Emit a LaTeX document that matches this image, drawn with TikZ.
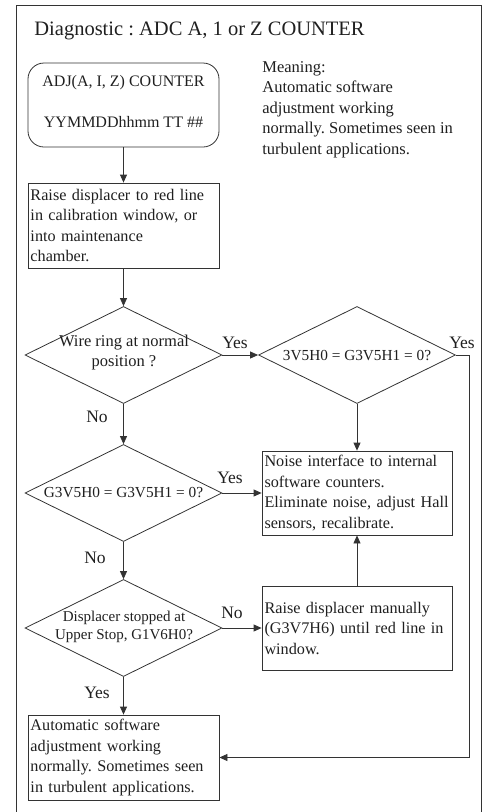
\documentclass[tikz,border=0pt]{standalone}
\usepackage{fontspec}
\setmainfont{Liberation Serif}
\usetikzlibrary{shapes.geometric,arrows.meta}
\frenchspacing
\begin{document}
\begin{tikzpicture}[x=1pt,y=-1pt,
  line width=0.8pt,
  lc/.style={draw=black!80},
  txt/.style={text=black!88},
  boxtext/.style={txt,font=\fontsize{16.2}{20.5}\selectfont\frenchspacing},
  procbox/.style={lc,rectangle,boxtext,inner xsep=2.5pt,inner ysep=0pt,align=left,minimum height=85pt},
  decision/.style={lc,diamond,minimum width=197pt,minimum height=97pt,inner sep=0pt},
  dtext/.style={txt,align=center,inner sep=0pt},
  lbl/.style={txt,font=\fontsize{17.5}{20}\selectfont,inner sep=0pt},
  arr/.style={lc,-{Triangle[length=8pt,width=7pt]}},
  ln/.style={lc}]
\useasboundingbox (0,0) rectangle (489,812);
\clip (0,0) rectangle (489,812);
% outer frame
\draw[lc] (16,830) -- (16,5) -- (481,5) -- (481,830);
% title
\node[txt,font=\fontsize{20.5}{24}\selectfont,anchor=west,inner sep=0pt] (title) at (34,31) {Diagnostic : ADC A, 1 or Z COUNTER};
% start box
\node[lc,rectangle,rounded corners=16pt,minimum width=191pt,minimum height=84pt,inner sep=0pt] (start) at (123.5,105) {};
\node[txt,font=\fontsize{16}{20}\selectfont,inner sep=0pt] (s1) at (123.5,83) {ADJ(A, I, Z) COUNTER};
\node[txt,font=\fontsize{16}{20}\selectfont,inner sep=0pt] (s2) at (123.5,122) {YYMMDDhhmm TT \#\#};
% meaning
\node[boxtext,font=\fontsize{16.5}{20.5}\selectfont,anchor=north west,align=left,inner sep=0pt] (meaning) at (262,61) {Meaning:\\Automatic software\\adjustment working\\normally. Sometimes seen in\\turbulent applications.};
% box 1
\node[procbox,text width=186pt] (box1) at (123.5,225.5) {Raise displacer to red line\\in calibration window, or\\into maintenance\\chamber.};
% diamond 1
\node[decision] (d1) at (123.5,355) {};
\node[dtext,font=\fontsize{16.5}{20}\selectfont] (d1t) at (124,353) {Wire ring at normal\\position ?};
% diamond 2
\node[decision] (d2) at (357,355) {};
\node[dtext,font=\fontsize{15.3}{18}\selectfont] (d2t) at (357,356) {3V5H0 = G3V5H1 = 0?};
% diamond 3
\node[dtext,font=\fontsize{15.3}{18}\selectfont] (d3t) at (123.5,493) {G3V5H0 = G3V5H1 = 0?};
\node[decision] (d3) at (123.5,493) {};
% diamond 4
\node[decision] (d4) at (123.5,628) {};
\node[dtext,font=\fontsize{15}{18}\selectfont] (d4t) at (124,627) {Displacer stopped at\\Upper Stop, G1V6H0?};
% noise box
\node[procbox,text width=185pt,minimum height=84pt] (noise) at (357,493) {Noise interface to internal\\software counters.\\\mbox{Eliminate noise, adjust Hall}\\sensors, recalibrate.};
% raise box
\node[procbox,text width=185pt,minimum height=84pt] (raise) at (357,628) {Raise displacer manually\\(G3V7H6) until red line in\\window.};
% final box
\node[procbox,text width=186pt] (final) at (123.5,757.5) {Automatic software\\adjustment working\\normally. Sometimes seen\\in turbulent applications.};
% labels
\node[lbl] (y1) at (235,343) {Yes};
\node[lbl] (y2) at (462,343) {Yes};
\node[lbl] (n1) at (97,417) {No};
\node[lbl] (y3) at (230,478) {Yes};
\node[lbl] (n2) at (95,558) {No};
\node[lbl] (n3) at (232,613) {No};
\node[lbl] (y4) at (97,693) {Yes};
% connectors
\coordinate (rc) at (469,355);
\draw[arr] (start.south) -- (box1.north);
\draw[arr] (box1.south) -- (d1.north);
\draw[arr] (d1.east) -- (d2.west);
\draw[arr] (d1.south) -- (d3.north);
\draw[arr] (d2.south) -- (noise.north);
\draw[arr] (d3.east) -- (noise.west);
\draw[arr] (d3.south) -- (d4.north);
\draw[arr] (d4.east) -- (raise.west);
\draw[arr] (raise.north) -- (noise.south);
\draw[arr] (d4.south) -- (final.north);
\draw[arr] (d2.east) -- (rc) |- (final.east);
\end{tikzpicture}
\end{document}
